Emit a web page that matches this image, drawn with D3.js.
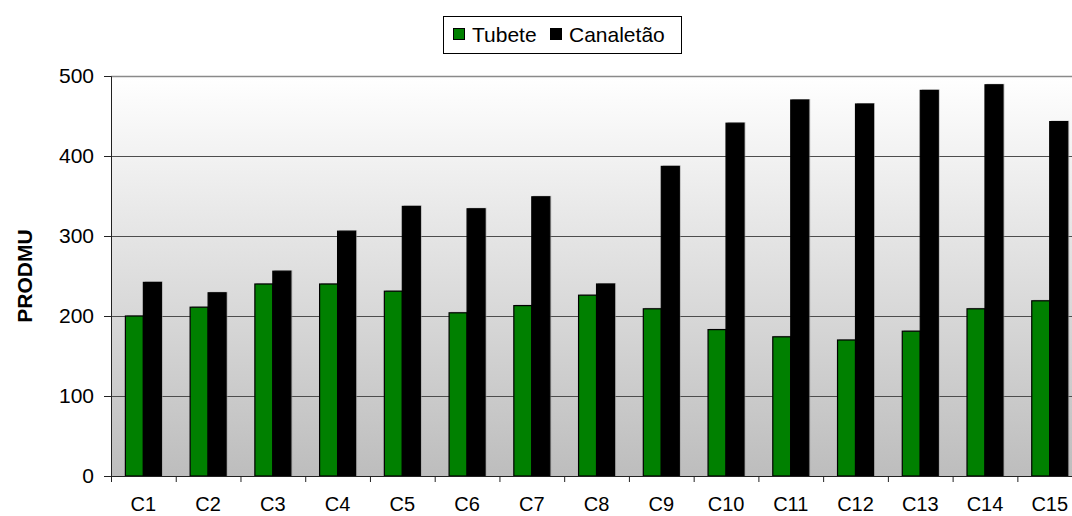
<html>
<head>
<meta charset="utf-8"/>
<style>
  body{margin:0;background:#fff;}
  svg text{font-family:"Liberation Sans", Arial, sans-serif;fill:#000;}
</style>
<script src="https://d3js.org/d3.v7.min.js"></script>
</head>
<body>
<svg id="chart" width="1072" height="516"></svg>
<script>
var categories = ["C1","C2","C3","C4","C5","C6","C7","C8","C9","C10","C11","C12","C13","C14","C15"];
var seriesNames = ["Tubete", "Canaletão"];
var tubete    = [200, 211, 240, 240, 231, 204, 213, 226, 209, 183, 174, 170, 181, 209, 219];
var canaletao = [242, 229, 256, 306, 337, 334, 349, 240, 387, 441, 470, 465, 482, 489, 443];
var yTicks = [0, 100, 200, 300, 400, 500];
var colors = ["#008000", "#000000"];

var svg = d3.select("#chart");
var plotLeft = 111, plotTop = 76, plotBottom = 476;
var step = 64.74;
var plotRight = plotLeft + step * categories.length;

var x0 = d3.scaleBand().domain(categories).range([plotLeft, plotRight]).padding(0);
var x1 = d3.scaleBand().domain(seriesNames).range([0, x0.bandwidth()]).paddingOuter(0.8).paddingInner(0);
var y = d3.scaleLinear().domain([0, 500]).range([plotBottom, plotTop]);

// background gradient
var defs = svg.append("defs");
var grad = defs.append("linearGradient").attr("id", "bg").attr("x1", 0).attr("y1", 0).attr("x2", 0).attr("y2", 1);
grad.append("stop").attr("offset", "0%").attr("stop-color", "#ffffff");
grad.append("stop").attr("offset", "100%").attr("stop-color", "#bdbdbd");

svg.append("rect").attr("x", plotLeft).attr("y", plotTop).attr("width", plotRight - plotLeft).attr("height", plotBottom - plotTop)
   .attr("fill", "url(#bg)");

// grid lines
svg.append("g").selectAll("line").data(yTicks.filter(function(d){ return d > 0 && d < 500; }))
   .enter().append("line")
   .attr("x1", plotLeft).attr("x2", plotRight)
   .attr("y1", function(d){ return y(d) + 0.5; }).attr("y2", function(d){ return y(d) + 0.5; })
   .attr("stroke", "#4d4d4d").attr("stroke-width", 1);
svg.append("line").attr("x1", plotLeft).attr("x2", plotRight).attr("y1", plotTop + 0.5).attr("y2", plotTop + 0.5)
   .attr("stroke", "#8a8a8a").attr("stroke-width", 1.5);

// bars
var data = categories.map(function(c, i){ return {cat: c, vals: [tubete[i], canaletao[i]]}; });
var groups = svg.append("g").selectAll("g").data(data).enter().append("g")
   .attr("transform", function(d){ return "translate(" + x0(d.cat) + ",0)"; });
groups.selectAll("rect.shadow").data(function(d){ return d.vals; }).enter().append("rect")
   .attr("class", "shadow")
   .attr("x", function(d, i){ return x1(seriesNames[i]) + 1.5; })
   .attr("y", function(d){ return y(d) - 1; })
   .attr("width", x1.bandwidth())
   .attr("height", function(d){ return plotBottom - y(d) + 1; })
   .attr("fill", "#9a9a9a").attr("opacity", 0.6);
groups.selectAll("rect.bar").data(function(d){ return d.vals; }).enter().append("rect")
   .attr("class", "bar")
   .attr("x", function(d, i){ return x1(seriesNames[i]); })
   .attr("y", function(d){ return y(d); })
   .attr("width", x1.bandwidth())
   .attr("height", function(d){ return plotBottom - y(d); })
   .attr("fill", function(d, i){ return colors[i]; })
   .attr("stroke", "#000").attr("stroke-width", 1.2);

// axes
var yAxis = d3.axisLeft(y).tickValues(yTicks).tickSize(7).tickPadding(10);
var gy = svg.append("g").attr("transform", "translate(" + plotLeft + ",0)").call(yAxis);
gy.select(".domain").attr("stroke", "#222");
gy.selectAll(".tick line").attr("stroke", "#222");
gy.selectAll("text").style("font-size", "21px").attr("fill", "#000");

var xAxis = d3.axisBottom(x0).tickSize(0).tickPadding(21);
var gx = svg.append("g").attr("transform", "translate(0," + plotBottom + ")").call(xAxis);
gx.select(".domain").attr("stroke", "#222");
gx.selectAll("text").style("font-size", "20px").attr("fill", "#000");
// tick marks between categories
gx.append("g").selectAll("line").data(categories).enter().append("line")
   .attr("x1", function(d){ return x0(d) + 0.5; }).attr("x2", function(d){ return x0(d) + 0.5; })
   .attr("y1", 0).attr("y2", 6).attr("stroke", "#222");

// y title
svg.append("text").attr("transform", "translate(32," + ((plotTop + plotBottom) / 2) + ") rotate(-90)")
   .attr("text-anchor", "middle").style("font-size", "21px").style("font-weight", "bold").text("PRODMU");

// legend
var lg = svg.append("g");
lg.append("rect").attr("x", 443.5).attr("y", 16.5).attr("width", 238).attr("height", 37)
  .attr("fill", "#fff").attr("stroke", "#000").attr("stroke-width", 1);
var legX = [453, 550];
seriesNames.forEach(function(s, i){
  lg.append("rect").attr("x", legX[i] + 0.5).attr("y", 28.5).attr("width", 11).attr("height", 11)
    .attr("fill", colors[i]).attr("stroke", "#000").attr("stroke-width", 1);
  lg.append("text").attr("x", legX[i] + 19).attr("y", 42).style("font-size", "21px").text(s);
});
</script>
</body>
</html>
